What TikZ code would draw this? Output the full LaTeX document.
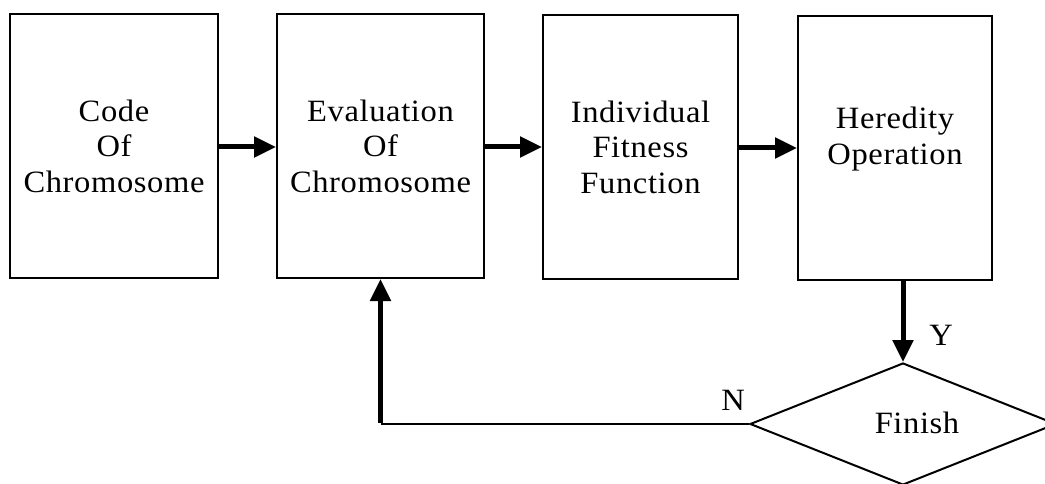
\documentclass[tikz,border=0pt]{standalone}
\usepackage{fontspec}
\setmainfont{Liberation Serif}[LetterSpace=2,FakeStretch=1.05]
\usetikzlibrary{arrows.meta,shapes.geometric,calc}
\begin{document}
\begin{tikzpicture}[x=1pt,y=-1pt,
  txt/.style={font=\fontsize{31}{35.5}\selectfont, align=center, inner sep=0pt},
  box/.style={txt, draw, line width=2pt, minimum height=264pt},
  flow/.style={line width=5pt, -{Triangle[length=22pt,width=20pt]}},
  thinline/.style={line width=2pt}]
\useasboundingbox (0,0) rectangle (1045,484);
\clip (0,0) rectangle (1045,484);
\fill[white] (0,0) rectangle (1045,484);
\node[box, minimum width=208pt] (b1) at (114,146) {Code\\Of\\Chromosome};
\node[box, minimum width=207pt] (b2) at (380.5,146) {Evaluation\\Of\\Chromosome};
\node[box, minimum width=195pt] (b3) at (640.5,147) {Individual\\Fitness\\Function};
\node[box, minimum width=194pt] (b4) at (895,148) {};
\node[txt] (t4) at (895,139) {Heredity\\Operation};
\node[draw, diamond, line width=2pt, minimum width=306pt, minimum height=122pt, inner sep=0pt] (d) at (903,424) {};
\node[txt] (fin) at (917,423) {Finish};
\node[txt] (y) at (941,335) {Y};
\node[txt] (n) at (733,400) {N};
\coordinate (c) at (b2.south |- d.west);
\draw[flow] (b1.east |- 0,147) -- (b2.west |- 0,147);
\draw[flow] (b2.east |- 0,147) -- (b3.west |- 0,147);
\draw[flow] (b3.east |- 0,148) -- (b4.west |- 0,148);
\draw[flow] (b4.south -| d.north) -- (d.north);
\draw[thinline] (d.west) -- (c);
\draw[flow] ([yshift=1pt]c) -- (b2.south);
\end{tikzpicture}
\end{document}
